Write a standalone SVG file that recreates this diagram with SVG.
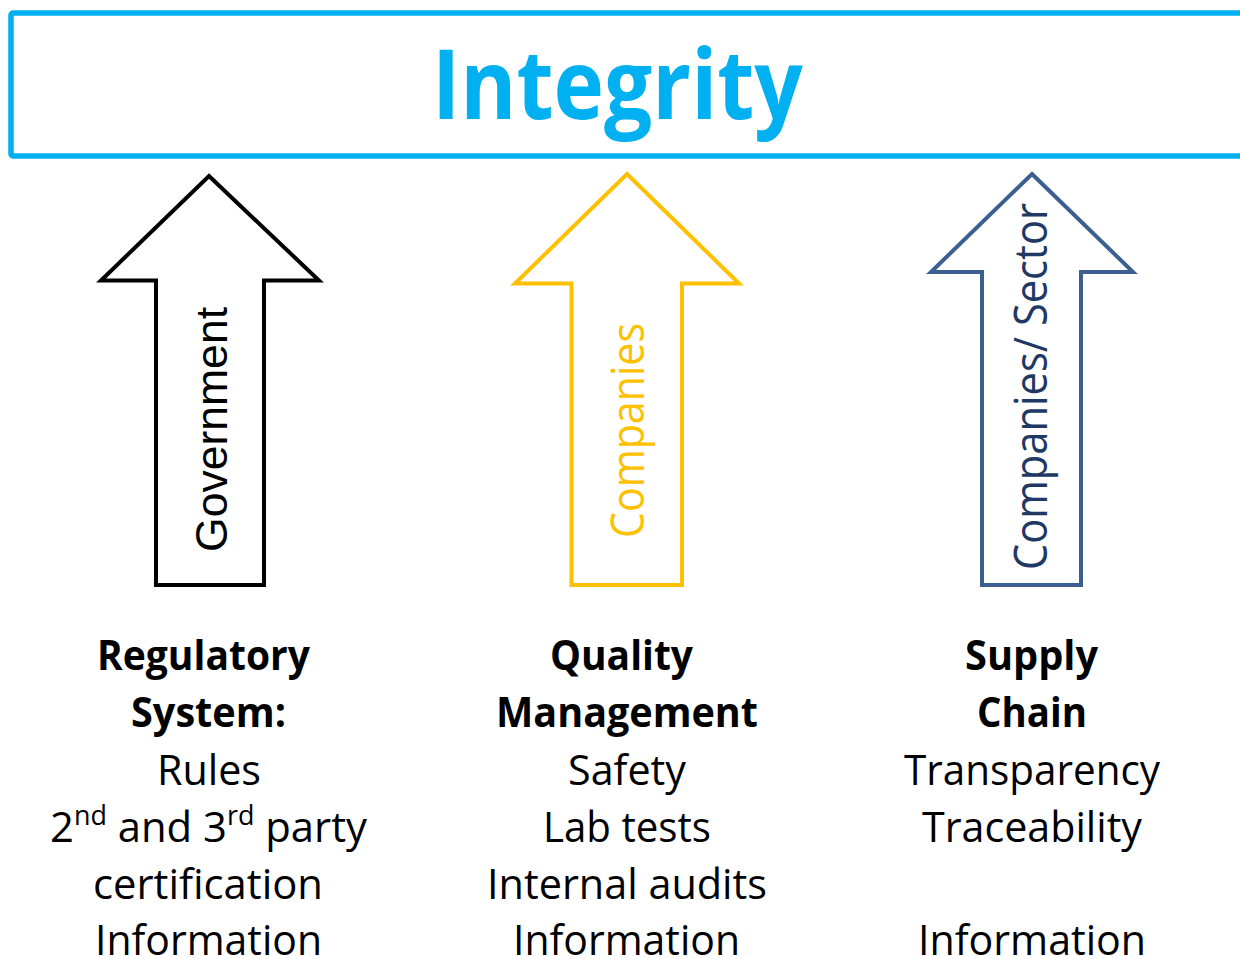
<svg xmlns="http://www.w3.org/2000/svg" width="1240" height="959" viewBox="0 0 1240 959">
<style>
.arrow{fill:#fff;stroke-width:4;stroke-linejoin:miter}
.cal{font-family:"Open Sans","Noto Sans","Liberation Sans",sans-serif;font-size:42px;fill:#000;text-anchor:middle}
.b{font-weight:bold}
</style>
<rect width="1240" height="959" fill="#fff"/>
<g id="integrity">
<rect x="11" y="13" width="1245" height="143" rx="2" fill="#fff" stroke="#00B0F0" stroke-width="5.5"/>
<text x="617.5" y="119" font-family="'Open Sans','Noto Sans',sans-serif" font-weight="bold" font-size="97" fill="#00B0F0" text-anchor="middle" textLength="371" lengthAdjust="spacingAndGlyphs">Integrity</text>
</g>
<g id="connectors">
<g id="arrow-government">
<path class="arrow" stroke="#000" d="M209,176 L319,280.5 L264,280.5 L264,585 L156,585 L156,280.5 L101,280.5 Z"/>
<text transform="translate(227,429.5) rotate(-90)" font-family="'Liberation Sans',Arial,sans-serif" font-size="44" fill="#000" text-anchor="middle" textLength="245" lengthAdjust="spacingAndGlyphs">Government</text>
</g>
<g id="arrow-companies">
<path class="arrow" stroke="#FFC000" d="M627,174 L739,283.5 L682,283.5 L682,585 L571.5,585 L571.5,283.5 L515,283.5 Z"/>
<text transform="translate(644,430.5) rotate(-90)" font-family="'Open Sans','Noto Sans',sans-serif" font-size="45" fill="#FFC000" text-anchor="middle" textLength="215" lengthAdjust="spacingAndGlyphs">Companies</text>
</g>
<g id="arrow-sector">
<path class="arrow" stroke="#3B5F8E" d="M1032,174 L1133,272 L1081,272 L1081,585 L982,585 L982,272 L931,272 Z"/>
<text transform="translate(1047,386.5) rotate(-90)" font-family="'Open Sans','Noto Sans',sans-serif" font-size="45" fill="#203864" text-anchor="middle" textLength="367" lengthAdjust="spacingAndGlyphs">Companies/ Sector</text>
</g>
</g>
<g id="col-regulatory">
<text class="cal b" x="203.5" y="670" textLength="213" lengthAdjust="spacingAndGlyphs">Regulatory</text>
<text class="cal b" x="208.5" y="727" textLength="155" lengthAdjust="spacingAndGlyphs">System:</text>
<text class="cal" x="209" y="785" textLength="104" lengthAdjust="spacingAndGlyphs">Rules</text>
<text class="cal" x="208.5" y="842" textLength="317" lengthAdjust="spacingAndGlyphs">2<tspan font-size="27" dy="-17">nd</tspan><tspan dy="17"> and 3</tspan><tspan font-size="27" dy="-17">rd</tspan><tspan dy="17"> party</tspan></text>
<text class="cal" x="208" y="899" textLength="230" lengthAdjust="spacingAndGlyphs">certification</text>
<text class="cal" x="208.5" y="955" textLength="227" lengthAdjust="spacingAndGlyphs">Information</text>
</g>
<g id="col-quality">
<text class="cal b" x="621.5" y="670" textLength="143" lengthAdjust="spacingAndGlyphs">Quality</text>
<text class="cal b" x="627" y="727" textLength="262" lengthAdjust="spacingAndGlyphs">Management</text>
<text class="cal" x="627" y="785" textLength="118" lengthAdjust="spacingAndGlyphs">Safety</text>
<text class="cal" x="627" y="842" textLength="168" lengthAdjust="spacingAndGlyphs">Lab tests</text>
<text class="cal" x="627" y="899" textLength="280" lengthAdjust="spacingAndGlyphs">Internal audits</text>
<text class="cal" x="626.5" y="955" textLength="227" lengthAdjust="spacingAndGlyphs">Information</text>
</g>
<g id="col-supply">
<text class="cal b" x="1031.5" y="670" textLength="133" lengthAdjust="spacingAndGlyphs">Supply</text>
<text class="cal b" x="1032" y="727" textLength="110" lengthAdjust="spacingAndGlyphs">Chain</text>
<text class="cal" x="1032" y="785" textLength="256" lengthAdjust="spacingAndGlyphs">Transparency</text>
<text class="cal" x="1032" y="842" textLength="220" lengthAdjust="spacingAndGlyphs">Traceability</text>
<text class="cal" x="1032" y="955" textLength="228" lengthAdjust="spacingAndGlyphs">Information</text>
</g>
</svg>
